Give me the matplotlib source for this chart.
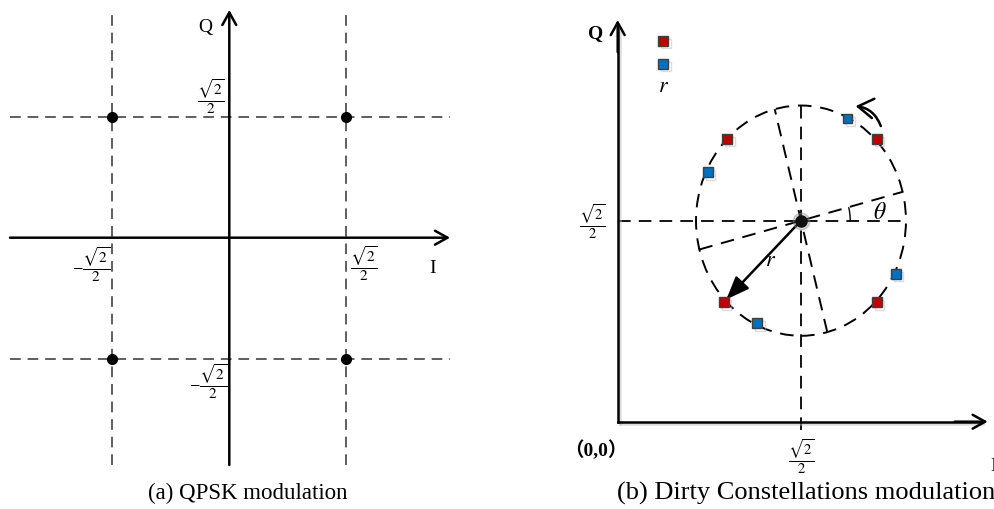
import numpy as np
import matplotlib.pyplot as plt
import matplotlib.patheffects as pe
from matplotlib.patches import Ellipse, Arc, FancyArrowPatch

plt.rcParams['font.family'] = ['Liberation Serif', 'Noto Sans CJK SC']
plt.rcParams['mathtext.fontset'] = 'stix'

W, H = 995, 509
s = np.sqrt(2) / 2
frac = r'$\dfrac{\sqrt{2}}{2}$'
mfrac = r'$-\dfrac{\sqrt{2}}{2}$'

# (a) QPSK constellation
qpsk_i = [-s, s, -s, s]
qpsk_q = [s, s, -s, -s]

# (b) dirty constellation: red = original symbols, blue = rotated by theta
red_i = [0.999, 0.422, 0.409, 0.999]
red_q = [0.995, 0.995, 0.420, 0.420]
blue_i = [0.887, 0.347, 0.537, 1.073]
blue_q = [1.066, 0.878, 0.346, 0.520]
radius = 0.405
theta_deg = 14.5

RED = '#c00000'
BLUE = '#0070c0'
DASH = (0, (7, 4.5))


def box(x0, y0, x1, y1):
    return [x0 / W, 1 - y1 / H, (x1 - x0) / W, (y1 - y0) / H]


def axis_arrow(ax, tail, tip, lw=1.8):
    ax.annotate('', xy=tip, xytext=tail,
                arrowprops=dict(arrowstyle='->,head_length=0.9,head_width=0.5',
                                lw=lw, color='black', shrinkA=0, shrinkB=0),
                annotation_clip=False)


fig = plt.figure(figsize=(W / 100, H / 100), dpi=100)

# ---------------- (a) QPSK ----------------
ax1 = fig.add_axes(box(0, 0, 460, 480))
ax1.axis('off')
ax1.set_xlim(-1.3855, 1.394)
ax1.set_ylim(-1.417, 1.390)

for v in [-s, s]:
    ax1.plot([v, v], [-1.329, 1.332], ls=DASH, color='#333333', lw=1.1)
    ax1.plot([-1.325, 1.334], [v, v], ls=DASH, color='#333333', lw=1.1)

axis_arrow(ax1, (-1.325, 0), (1.334, 0))
axis_arrow(ax1, (0, -1.329), (0, 1.332))
ax1.plot(qpsk_i, qpsk_q, 'o', color='black', ms=7, zorder=5)

ax1.text(-0.147, 1.232, 'Q', fontsize=14, ha='center', va='center')
ax1.text(1.231, -0.178, 'I', fontsize=14, ha='center', va='center')
ax1.text(-0.026, 0.823, frac, fontsize=11, ha='right', va='center')
ax1.text(-0.014, -0.844, mfrac, fontsize=11, ha='right', va='center')
ax1.text(-0.721, -0.160, mfrac, fontsize=11, ha='right', va='center')
ax1.text(0.729, -0.149, frac, fontsize=11, ha='left', va='center')

# ---------------- (b) Dirty constellation ----------------
ax2 = fig.add_axes(box(560, 0, 995, 480))
ax2.axis('off')
ax2.set_xlim(-0.2226, 1.4556)
ax2.set_ylim(-0.2051, 1.4833)

shadow = [pe.SimpleLineShadow(offset=(2, -2), shadow_color='#bbbbbb', alpha=0.5), pe.Normal()]

ax2.plot([s, s], [-0.03, s + radius], ls=DASH, color='black', lw=1.3)
ax2.plot([0, s + radius], [s, s], ls=DASH, color='black', lw=1.3)

circ = Ellipse((s, s), 2 * radius, 2 * radius, fill=False, ls=DASH, lw=1.4,
               edgecolor='black')
ax2.add_patch(circ)

for a in [theta_deg, theta_deg + 90]:
    t = np.radians(a)
    dx, dy = radius * np.cos(t), radius * np.sin(t)
    ax2.plot([s - dx, s + dx], [s - dy, s + dy], ls=DASH, color='black', lw=1.4)

ax2.add_patch(Arc((s, s), 0.38, 0.38, theta1=0, theta2=theta_deg, lw=1.0, color='black'))
ax2.text(1.012, 0.731, r'$\theta$', fontsize=17, ha='center', va='center')

# axes
ax2.plot([0, 0], [0, 1.38], color='black', lw=1.8, path_effects=shadow)
ax2.plot([0, 1.40], [0, 0], color='black', lw=1.8, path_effects=shadow)
axis_arrow(ax2, (0, 1.30), (0, 1.413))
axis_arrow(ax2, (1.30, 0), (1.4275, 0))

# radius arrow
ax2.annotate('', xy=(red_i[2] + 0.01, red_q[2] + 0.01), xytext=(s, s),
             arrowprops=dict(arrowstyle='-|>,head_length=1.4,head_width=0.55',
                             lw=1.8, color='black', shrinkA=0, shrinkB=0))
ax2.text(0.591, 0.562, r'$r$', fontsize=16, ha='center', va='center')

# rotation arrow
rot = FancyArrowPatch((1.015, 1.040), (0.918, 1.110), connectionstyle='arc3,rad=0.3',
                      arrowstyle='->,head_length=0.55,head_width=0.35', mutation_scale=20,
                      lw=1.8, color='black', shrinkA=0, shrinkB=0)
ax2.add_patch(rot)

# centre point
ax2.plot([s], [s], 'o', color='#888888', ms=12, alpha=0.35, zorder=6)
ax2.plot([s], [s], 'o', color='#111111', ms=8, zorder=7)

# symbols
sq = dict(marker='s', ls='none', ms=7, mew=1.0, mec='#404040', zorder=8)
ax2.plot(red_i, red_q, mfc=RED, path_effects=shadow, **sq)
ax2.plot(blue_i, blue_q, mfc=BLUE, path_effects=shadow, **sq)

# legend-like keys
ax2.plot([0.237], [0.915], transform=ax2.transAxes, mfc=RED, path_effects=shadow, **sq)
ax2.plot([0.237], [0.867], transform=ax2.transAxes, mfc=BLUE, path_effects=shadow, **sq)
ax2.text(0.237, 0.817, r'$r$', transform=ax2.transAxes, fontsize=16, ha='center', va='center')

ax2.text(-0.084, 1.367, 'Q', fontsize=14, fontweight='bold', ha='center', va='center')
ax2.text(-0.047, 0.703, frac, fontsize=10.5, ha='right', va='center')
ax2.text(s, -0.125, frac, fontsize=10.5, ha='center', va='center')
ax2.text(-0.084, -0.103, '（0,0）', fontsize=14, fontweight='bold', ha='center', va='center')
ax2.text(1.436, -0.156, 'I', fontsize=14, ha='left', va='center')

# captions
fig.text(248 / W, 1 - 493 / H, '(a) QPSK modulation', fontsize=16.5, ha='center', va='center')
fig.text(617 / W, 1 - 493 / H, '(b) Dirty Constellations modulation', fontsize=19,
         ha='left', va='center')

fig.savefig('out.png', dpi=100)
